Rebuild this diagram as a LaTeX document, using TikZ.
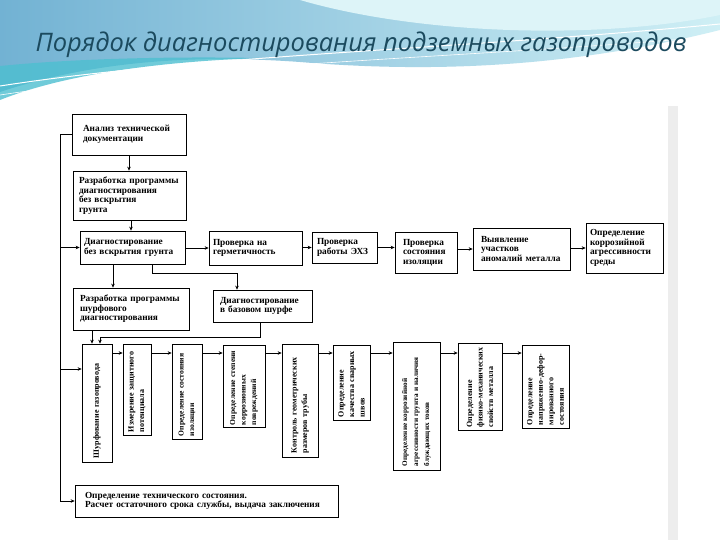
\documentclass[tikz,border=0pt]{standalone}
\usepackage{fontspec}
\setmainfont{Liberation Serif}
\newfontfamily\titlefont{Open Sans}
\usetikzlibrary{arrows.meta, calc, positioning}
\definecolor{titleblue}{HTML}{1B4A5E}
\definecolor{waveblue}{HTML}{72B2D3}
\definecolor{wavecyan}{HTML}{CFEFF5}
\definecolor{waveteal}{HTML}{4DBFD0}

\begin{document}
\begin{tikzpicture}[x=1pt, y=-1pt,
  ttl/.style={font=\titlefont\itshape\fontsize{25.5}{30}\selectfont, text=titleblue},
  box/.style={draw, line width=0.7pt, align=left, inner ysep=0pt, font=\bfseries\fontsize{9.3}{9.5}\selectfont},
  vbox/.style={draw, line width=0.7pt, inner sep=0pt},
  vtxt/.style={rotate=90, align=left, inner sep=0pt, font=\bfseries\fontsize{8}{10.5}\selectfont},
  arr/.style={line width=0.7pt, -{Stealth[length=4pt, width=3.5pt]}}]
\useasboundingbox (0,0) rectangle (720,540);
% slide background with the wave
\fill[white] (0,0) rectangle (720,540);
\shade[left color=waveblue, right color=wavecyan]
  (0,0) -- (720,0) -- (720,30) .. controls (560,70) and (420,72) .. (300,62)
  .. controls (190,54) and (90,62) .. (0,92) -- cycle;
\fill[wavecyan!70!white] (300,0) .. controls (420,35) and (600,40) .. (720,15) -- (720,0) -- cycle;
\fill[waveteal, opacity=0.8] (0,66) .. controls (60,60) and (150,56) .. (260,58)
  .. controls (150,62) and (60,76) .. (0,100) -- cycle;
\draw[white, line width=1pt] (0,86) .. controls (200,55) and (450,50) .. (720,24);
\draw[white, line width=0.6pt] (0,95) .. controls (220,62) and (470,58) .. (720,36);
% title
\node[ttl] (title) at (361,45) {Порядок диагностирования подземных газопроводов};
% shadow of the scanned sheet
\fill[black!7] (668,106) rectangle (678,540);

% upper part
\node[box, inner xsep=11pt, text width=92pt, minimum height=41pt] (anal) at (129,134.5) {Анализ технической\\документации};
\node[box, inner xsep=6pt, text width=101pt, minimum height=49pt] (prog) at (129.5,195.5) {Разработка программы\\диагностирования\\без вскрытия\\грунта};
\node[box, inner xsep=4pt, text width=97pt, minimum height=33pt] (diag) at (132.5,247.5) {Диагностирование\\без вскрытия грунта};
\node[box, inner xsep=7pt, text width=102pt, minimum height=42pt] (shurfprog) at (131,309) {Разработка программы\\шурфового\\диагностирования};
\node[box, inner xsep=4pt, text width=85pt, minimum height=34pt] (germ) at (255.5,248) {Проверка на\\герметичность};
\node[box, inner xsep=7pt, text width=85pt, minimum height=32pt] (baza) at (262.5,306) {Диагностирование\\в базовом шурфе};
\node[box, inner xsep=5pt, text width=55pt, minimum height=31pt] (ehz) at (344.5,247.5) {Проверка\\работы ЭХЗ};
\node[box, inner xsep=8pt, text width=46pt, minimum height=41pt] (izol) at (426,252.5) {Проверка\\состояния\\изоляции};
\node[box, inner xsep=8pt, text width=81pt, minimum height=42pt] (anom) at (521.5,249) {Выявление\\участков\\аномалий металла};
\node[box, inner xsep=4pt, text width=69pt, minimum height=50pt] (agr) at (624.5,248) {Определение\\коррозийной\\агрессивности\\среды};

% shurf works, text turned upwards
\node[vbox, minimum width=30pt, minimum height=118pt] (v1) at (97,403) {};
\node[vtxt, text width=110pt] at (v1) {Шурфование газопровода};
\node[vbox, minimum width=28pt, minimum height=91pt] (v2) at (137,389.5) {};
\node[vtxt, text width=85pt] at (v2) {Измерение защитного\\потенциала};
\node[vbox, minimum width=30pt, minimum height=95pt] (v3) at (187,391.5) {};
\node[vtxt, text width=89pt, font=\bfseries\fontsize{7.6}{10.5}\selectfont] at (v3) {Определение состояния\\изоляции};
\node[vbox, minimum width=42pt, minimum height=82pt] (v4) at (244,386) {};
\node[vtxt, text width=78pt, font=\bfseries\fontsize{7.6}{10.5}\selectfont] at (v4) {Определение степени\\коррозионных\\повреждений};
\node[vbox, minimum width=36pt, minimum height=113pt] (v5) at (300,400.5) {};
\node[vtxt, text width=105pt] at (v5) {Контроль геометрических\\размеров трубы};
\node[vbox, minimum width=37pt, minimum height=75pt] (v6) at (351.5,382.5) {};
\node[vtxt, text width=69pt] at (v6) {Определение\\качества сварных\\швов};
\node[vbox, minimum width=47pt, minimum height=128pt] (v7) at (416.5,406) {};
\node[vtxt, text width=120pt, font=\bfseries\fontsize{7.2}{11}\selectfont] at (v7) {Определение коррозийной\\агрессивности грунта и наличия\\блуждающих токов};
\node[vbox, minimum width=44pt, minimum height=87pt] (v8) at (480,386.5) {};
\node[vtxt, text width=82pt] at (v8) {Определение\\физико-механических\\свойств металла};
\node[vbox, minimum width=47pt, minimum height=83pt] (v9) at (545.5,386.5) {};
\node[vtxt, text width=77pt] at (v9) {Определение\\напряженно-дефор-\\мированного\\состояния};

% final box
\node[box, inner xsep=10pt, text width=243pt, minimum height=32pt] (itog) at (206.5,501) {Определение технического состояния.\\Расчет остаточного срока службы, выдача заключения};

% connectors
\draw[arr] (anal.south) -- (anal.south |- prog.north);
\draw[arr] ([xshift=1.5pt]prog.south) -- ([xshift=1.5pt]prog.south |- diag.north);
\draw[arr] (diag.east |- germ.west) -- (germ.west);
\draw[arr] ([xshift=-19.5pt]diag.south) -- ([xshift=-19.5pt]diag.south |- shurfprog.north);
\draw[arr] ([xshift=19.5pt]diag.south) -- ++(0,9) -| ([xshift=-25.5pt]baza.north);
\draw[arr] (germ.east |- ehz.west) -- (ehz.west);
\draw[arr] (ehz.east) -- (ehz.east -| izol.west);
\draw[arr] (izol.east |- anom.west) -- (anom.west);
\draw[arr] (anom.east |- agr.west) -- (agr.west);
% left trunk line
\coordinate (trk) at (60,134.5);
\draw[arr] (anal.west) -- (trk) |- (itog.west);
\draw[arr] (trk |- diag.west) -- (diag.west);
\coordinate (v1in) at ([yshift=34pt]v1.west);
\draw[arr] (trk |- v1in) -- (v1in);
% into the shurf works
\draw[arr] ([xshift=-39pt]shurfprog.south) -- ([xshift=-39pt]shurfprog.south |- v1.north);
\draw[arr] ([xshift=-2.5pt]baza.south) -- ++(0,15) -| ([xshift=3pt]v1.north);
\coordinate (rowy) at (0,353);
\foreach \a/\b in {v1/v2, v2/v3, v3/v4, v4/v5, v5/v6, v6/v7, v7/v8, v8/v9}
  \draw[arr] (\a.east |- rowy) -- (\b.west |- rowy);
\end{tikzpicture}
\end{document}
